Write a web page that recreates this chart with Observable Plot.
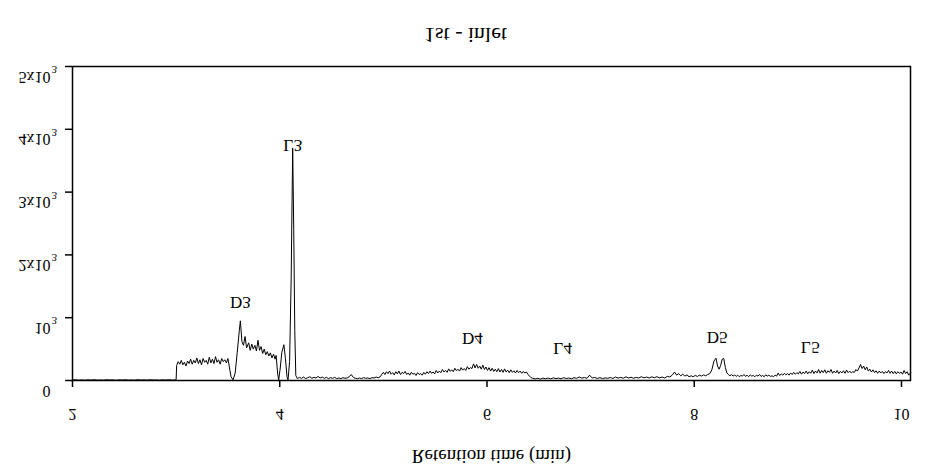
<!DOCTYPE html>
<html><head><meta charset="utf-8">
<script src="https://cdn.jsdelivr.net/npm/d3@7"></script>
<script src="https://cdn.jsdelivr.net/npm/@observablehq/plot@0.6"></script>
<style>
html,body{margin:0;padding:0;background:#fff;}
#chart svg{display:block;}
</style></head><body><div id="chart"></div>
<script>
// Chromatogram trace: [retention time (min), signal]
const trace = [
[2.00,8],[2.03,12],[2.06,6],[2.09,10],[2.12,5],[2.15,11],[2.18,7],[2.21,13],[2.24,6],[2.27,9],[2.30,5],[2.33,12],
[2.36,8],[2.39,10],[2.42,4],[2.45,11],[2.48,7],[2.51,12],[2.54,6],[2.57,9],[2.60,5],[2.63,13],[2.66,7],[2.69,10],
[2.72,6],[2.75,12],[2.78,8],[2.81,10],[2.84,5],[2.87,11],[2.90,7],[2.93,12],[2.96,6],[2.99,9],
[3.00,10],[3.005,240],[3.02,300],[3.035,260],[3.05,320],[3.065,250],[3.08,290],[3.095,230],[3.11,310],[3.125,270],
[3.14,340],[3.155,260],[3.17,320],[3.185,280],[3.20,360],[3.215,270],[3.23,330],[3.245,250],[3.26,350],[3.275,290],
[3.29,320],[3.305,260],[3.32,370],[3.335,280],[3.35,340],[3.365,270],[3.38,380],[3.395,290],[3.41,330],[3.425,260],
[3.44,350],[3.455,300],[3.47,330],[3.485,280],[3.50,350],[3.515,200],[3.53,60],[3.55,10],
[3.57,120],[3.59,450],[3.61,800],[3.62,950],[3.635,620],[3.65,560],[3.665,700],[3.68,520],[3.70,600],[3.715,480],
[3.73,580],[3.745,500],[3.76,560],[3.775,470],[3.79,640],[3.805,480],[3.82,540],[3.835,430],[3.85,500],[3.865,410],
[3.88,460],[3.895,390],[3.91,440],[3.925,360],[3.94,420],[3.955,340],[3.965,400],[3.98,100],[3.99,10],
[4.005,200],[4.02,450],[4.04,570],[4.055,350],[4.07,60],[4.08,10],[4.095,300],[4.11,1600],[4.125,3700],
[4.135,2400],[4.145,800],[4.155,80],
[4.17,30],[4.19,50],[4.21,35],[4.23,55],[4.25,30],[4.27,45],[4.29,60],[4.31,35],[4.33,50],[4.35,40],[4.37,65],
[4.39,40],[4.41,55],[4.43,35],[4.45,50],[4.47,30],[4.49,45],[4.51,35],[4.53,50],[4.55,30],[4.57,40],[4.59,30],
[4.61,45],[4.63,35],[4.65,40],[4.67,60],[4.69,95],[4.71,50],[4.73,35],[4.75,30],[4.77,40],[4.79,30],[4.81,45],
[4.83,35],[4.85,40],[4.87,30],[4.89,45],[4.91,40],[4.93,55],[4.95,45],[4.97,60],
[4.985,100],[5.00,130],[5.015,95],[5.03,140],[5.045,110],[5.06,150],[5.075,100],[5.09,125],[5.105,90],[5.12,140],
[5.135,105],[5.15,150],[5.165,95],[5.18,130],[5.195,110],[5.21,145],[5.225,95],[5.24,120],[5.255,85],[5.27,130],
[5.285,100],[5.30,115],[5.315,80],[5.33,125],[5.345,95],[5.36,110],[5.375,85],[5.39,130],[5.405,100],[5.42,140],
[5.435,110],[5.45,150],[5.465,115],[5.48,135],[5.495,105],[5.51,160],[5.525,120],[5.54,150],[5.555,125],[5.57,175],
[5.585,135],[5.60,160],[5.615,130],[5.63,185],[5.645,145],[5.66,170],[5.675,140],[5.69,195],[5.705,155],[5.72,180],
[5.735,150],[5.75,205],[5.765,165],[5.78,190],[5.795,160],[5.81,220],[5.825,180],[5.84,205],[5.855,190],[5.87,265],
[5.885,200],[5.90,255],[5.915,195],[5.93,230],[5.945,180],[5.96,245],[5.975,175],[5.99,215],[6.005,160],[6.02,205],
[6.035,150],[6.05,195],[6.065,145],[6.08,180],[6.095,140],[6.11,190],[6.125,135],[6.14,175],[6.155,130],[6.17,185],
[6.185,135],[6.20,165],[6.215,125],[6.23,170],[6.245,130],[6.26,155],[6.275,120],[6.29,160],[6.305,125],[6.32,150],
[6.335,115],[6.35,145],[6.365,120],[6.38,135],[6.395,100],[6.41,70],[6.425,45],[6.44,35],
[6.465,25],[6.49,35],[6.515,22],[6.54,38],[6.565,28],[6.59,40],[6.615,25],[6.64,42],[6.665,30],[6.69,38],[6.715,27],
[6.74,45],[6.765,32],[6.79,40],[6.815,28],[6.84,45],[6.865,35],[6.89,55],[6.915,38],[6.94,48],[6.965,35],[6.99,85],
[7.015,40],[7.04,48],[7.065,32],[7.09,45],[7.115,30],[7.14,42],[7.165,35],[7.19,48],[7.215,33],[7.24,55],[7.265,38],
[7.29,50],[7.315,36],[7.34,58],[7.365,40],[7.39,52],[7.415,35],[7.44,50],[7.465,40],[7.49,60],[7.515,42],[7.54,55],
[7.565,40],[7.59,58],[7.615,45],[7.64,60],[7.665,42],[7.69,55],[7.715,40],[7.74,65],[7.765,55],[7.79,90],[7.81,135],
[7.83,85],[7.85,110],[7.87,75],[7.89,100],[7.91,70],[7.93,90],[7.95,60],
[7.97,75],[7.99,60],[8.01,80],[8.03,65],[8.05,85],[8.07,70],[8.09,90],[8.11,75],[8.13,95],[8.15,110],[8.17,170],
[8.19,310],[8.21,355],[8.225,230],[8.24,180],[8.255,240],[8.27,340],[8.285,350],[8.30,210],[8.315,120],[8.33,95],
[8.345,75],[8.36,95],[8.375,70],[8.39,90],[8.405,65],[8.42,85],[8.435,60],[8.45,80],[8.465,70],[8.48,95],[8.495,65],
[8.51,85],[8.525,60],[8.54,90],[8.555,70],[8.57,80],[8.585,60],[8.60,85],[8.615,70],[8.63,95],[8.645,65],[8.66,80],
[8.675,60],[8.69,90],[8.705,70],[8.72,85],[8.735,65],[8.75,75],[8.765,60],[8.78,85],[8.795,70],[8.81,120],[8.825,80],
[8.84,105],[8.855,85],[8.87,115],[8.885,90],[8.90,110],[8.915,85],[8.93,120],[8.945,95],[8.96,130],[8.975,100],
[8.99,125],[9.005,105],[9.02,145],[9.035,100],[9.05,135],[9.065,110],[9.08,150],[9.095,105],[9.11,140],[9.125,115],
[9.14,165],[9.155,110],[9.17,150],[9.185,120],[9.20,175],[9.215,115],[9.23,160],[9.245,125],[9.26,170],[9.275,115],
[9.29,155],[9.305,130],[9.32,175],[9.335,115],[9.35,150],[9.365,120],[9.38,160],[9.395,110],[9.41,145],[9.425,120],
[9.44,155],[9.455,115],[9.47,165],[9.485,125],[9.50,150],[9.515,120],[9.53,140],[9.545,130],[9.56,175],[9.575,150],
[9.59,200],[9.605,255],[9.62,190],[9.635,230],[9.65,170],[9.665,215],[9.68,150],[9.695,180],[9.71,135],[9.725,170],
[9.74,125],[9.755,155],[9.77,115],[9.785,150],[9.80,120],[9.815,145],[9.83,110],[9.845,140],[9.86,120],[9.875,160],
[9.89,115],[9.905,150],[9.92,110],[9.935,145],[9.95,105],[9.965,140],[9.98,115],[9.995,135],[10.01,100],[10.025,160],
[10.04,110],[10.055,140],[10.07,85],[10.087,120]
];

const xTicks = [2, 4, 6, 8, 10];
const yTicks = [0, 1000, 2000, 3000, 4000, 5000];
const yTickBase = ["0", "10", "2x10", "3x10", "4x10", "5x10"];
const yTickSup = ["", "3", "3", "3", "3", "3"];

const peakNames = ["D3", "L3", "D4", "L4", "D5", "L5"];
const peakTimes = [3.62, 4.125, 5.86, 6.73, 8.22, 9.12];
const peakLevels = [1240, 3740, 670, 510, 685, 525];

const titleText = "1st - inlet";
const xLabelText = "Retention time (min)";

const peaks = peakNames.map((name, i) => ({name, t: peakTimes[i], v: peakLevels[i]}));

const chart = Plot.plot({
  width: 936,
  height: 465,
  marginLeft: 72,
  marginRight: 26,
  marginTop: 66,
  marginBottom: 85,
  style: {fontFamily: "'Liberation Serif', 'Times New Roman', serif", fontSize: "16px", color: "black", background: "white"},
  x: {domain: [2, 10.087]},
  y: {domain: [0, 5000]},
  marks: [
    Plot.frame({stroke: "black", strokeWidth: 1.5}),
    Plot.axisX({ticks: xTicks, tickSize: 7, strokeWidth: 1.5, tickFormat: d => String(d), label: null, fontSize: 16, tickPadding: 21}),
    Plot.axisY({ticks: yTicks, tickSize: 7, strokeWidth: 1.5, tickFormat: () => "", label: null}),
    Plot.line(trace, {x: d => d[0], y: d => d[1], stroke: "black", strokeWidth: 1}),
    Plot.text(yTicks, {y: d => d, frameAnchor: "left", text: (d, i) => yTickBase[i], textAnchor: "end", dx: -22, dy: 11, fontSize: 16}),
    Plot.text(yTicks, {y: d => d, frameAnchor: "left", text: (d, i) => yTickSup[i], textAnchor: "start", dx: -21, dy: 4, fontSize: 11}),
    Plot.text(peaks, {x: "t", y: "v", text: "name", fontSize: 17}),
    Plot.text([titleText], {frameAnchor: "top", text: d => d, dx: -26, dy: -39, fontSize: 22}),
    Plot.text([xLabelText], {frameAnchor: "bottom", text: d => d, dx: 0, dy: 81, fontSize: 19})
  ]
});

document.getElementById("chart").append(chart);

// The reference shows every glyph mirrored vertically in place.
d3.select(chart).selectAll("text").each(function() {
  const b = this.getBBox();
  const cy = b.y + b.height / 2;
  const t = this.getAttribute("transform") || "";
  this.setAttribute("transform", `${t} translate(0,${2 * cy}) scale(1,-1)`);
});
</script>
</body></html>
